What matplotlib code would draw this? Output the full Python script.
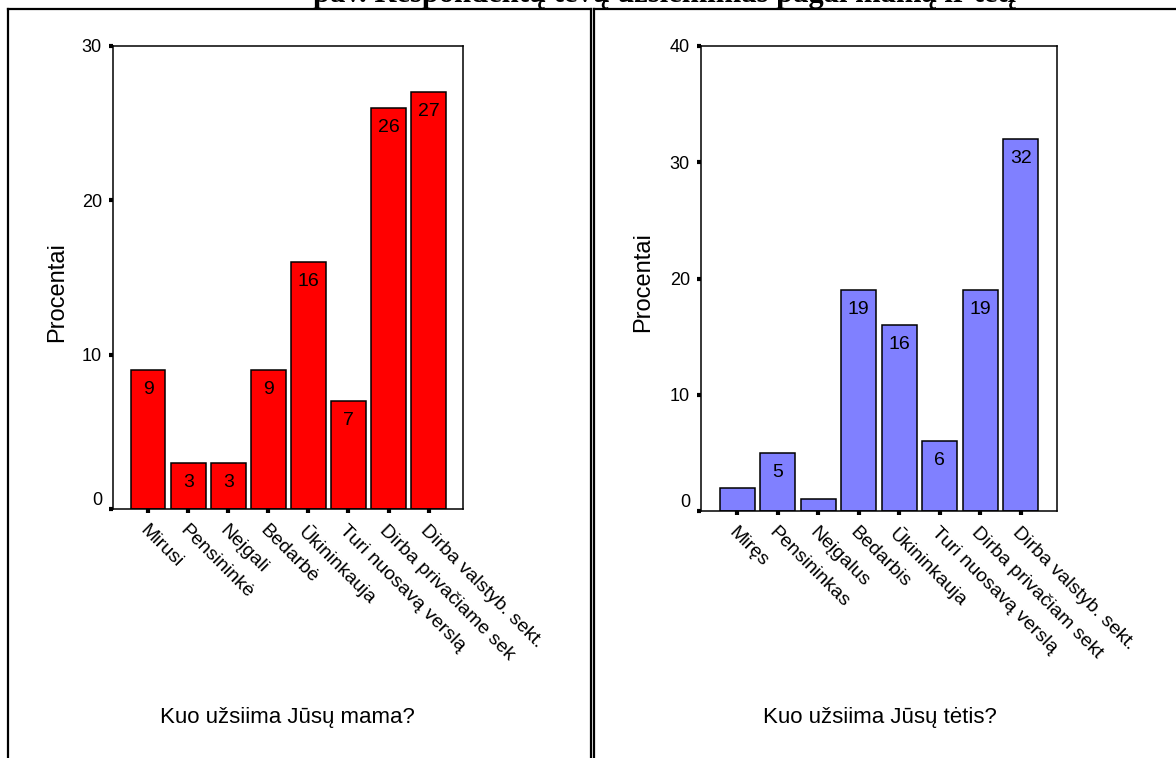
import matplotlib

matplotlib.use("Agg")
import matplotlib.pyplot as plt
import matplotlib.transforms as mtrans
from matplotlib.lines import Line2D

plt.rcParams["font.family"] = ["Liberation Sans", "DejaVu Sans"]

# data
mama_labels = ["Mirusi", "Pensininkė", "Neįgali", "Bedarbė", "Ūkininkauja",
               "Turi nuosavą verslą", "Dirba privačiame sek", "Dirba valstyb. sekt."]
mama_values = [9, 3, 3, 9, 16, 7, 26, 27]
tetis_labels = ["Miręs", "Pensininkas", "Neįgalus", "Bedarbis", "Ūkininkauja",
                "Turi nuosavą verslą", "Dirba privačiam sekt", "Dirba valstyb. sekt."]
tetis_values = [2, 5, 1, 19, 16, 6, 19, 32]

W, H = 1176, 758
fig = plt.figure(figsize=(W / 100, H / 100), dpi=100, facecolor="white")


def px_box(left, top, right, bottom):
    return [left / W, 1 - bottom / H, (right - left) / W, (bottom - top) / H]


def draw_panel(rect, labels, values, color, ymax, xlim, xlabel, xlabel_x):
    ax = fig.add_axes(rect)
    x = list(range(len(values)))
    bars = ax.bar(x, values, width=0.86, color=color, edgecolor="black", linewidth=1.1)
    ax.set_xlim(*xlim)
    ax.set_ylim(0, ymax)
    ax.set_yticks(range(0, ymax + 1, 10))
    ax.set_xticks(x)
    ax.set_xticklabels(labels, rotation=-45, ha="left", va="top",
                       rotation_mode="anchor", fontsize=14)
    shift = mtrans.ScaledTranslation(12 / 100, 0, fig.dpi_scale_trans)
    for lab in ax.get_xticklabels():
        lab.set_transform(lab.get_transform() + shift)
    ax.tick_params(axis="both", direction="out", length=3, width=3, colors="black")
    ax.tick_params(axis="y", labelsize=13, pad=5)
    ax.tick_params(axis="x", pad=6)
    ax.get_yticklabels()[0].set_va("bottom")
    for sp in ax.spines.values():
        sp.set_linewidth(1.1)
    for bar, v in zip(bars, values):
        if v >= 3:
            ax.annotate(str(v), (bar.get_x() + bar.get_width() / 2, v),
                        xytext=(0, -8), textcoords="offset points",
                        ha="center", va="top", fontsize=14)
    fig.text(xlabel_x / W, 1 - 718 / H, xlabel, ha="center", va="center", fontsize=16)
    return ax


draw_panel(px_box(113, 46, 463, 509), mama_labels, mama_values, "#ff0000", 30,
           (-0.88, 7.86), "Kuo užsiima Jūsų mama?", 287)
draw_panel(px_box(701, 46, 1057, 511), tetis_labels, tetis_values, "#8080ff", 40,
           (-0.89, 7.89), "Kuo užsiima Jūsų tėtis?", 880)

fig.text(57 / W, 1 - 292 / H, "Procentai", rotation=90, ha="center", va="center", fontsize=17)
fig.text(643 / W, 1 - 282 / H, "Procentai", rotation=90, ha="center", va="center", fontsize=17)

# table frame around the two panels
frame = dict(color="black", linewidth=1.6, transform=fig.transFigure)
fig.add_artist(Line2D([8 / W, 591 / W], [1 - 9 / H, 1 - 9 / H], **frame))
fig.add_artist(Line2D([594 / W, 1.0], [1 - 9 / H, 1 - 9 / H], **frame))
fig.add_artist(Line2D([8 / W, 8 / W], [0, 1 - 9 / H], **frame))
fig.add_artist(Line2D([591 / W, 591 / W], [0, 1 - 9 / H], **frame))
fig.add_artist(Line2D([594 / W, 594 / W], [0, 1 - 9 / H], **frame))

# caption above, cut off by the page edge as in the scanned page
fig.text(665 / W, 1 - 2 / H, "pav. Respondentų tėvų užsiėmimas pagal mamą ir tėtį",
         ha="center", va="baseline", fontsize=22, weight="bold",
         family=["Liberation Serif"])

fig.savefig("out.png", dpi=100, facecolor="white")
